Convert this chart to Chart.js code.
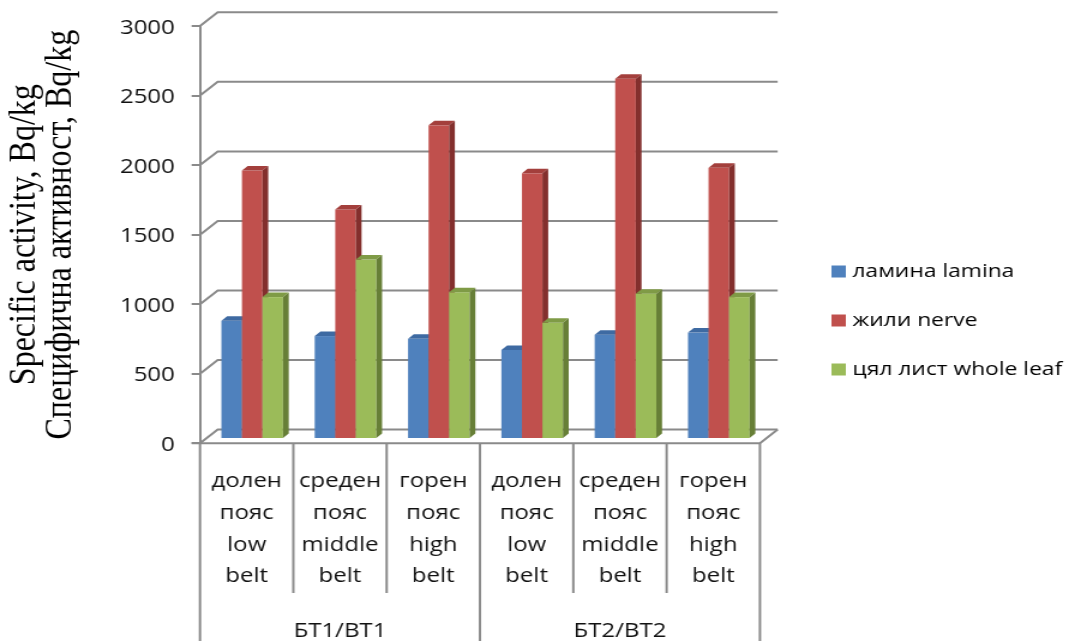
<!DOCTYPE html>
<html>
<head>
<meta charset="utf-8">
<script src="https://cdn.jsdelivr.net/npm/chart.js@4.4.1/dist/chart.umd.min.js"></script>
<style>
  html, body { margin: 0; padding: 0; background: #fff; overflow: hidden; }
  #wrap { width: 1069px; height: 641px; overflow: hidden; }
  #c { display: block; transform-origin: 0 0; }
</style>
</head>
<body>
<div id="wrap"><canvas id="c" width="891" height="641"></canvas></div>
<script>
// ---- data ----
const categories = [
  ['долен', 'пояс', 'low', 'belt'],
  ['среден', 'пояс', 'middle', 'belt'],
  ['горен', 'пояс', 'high', 'belt'],
  ['долен', 'пояс', 'low', 'belt'],
  ['среден', 'пояс', 'middle', 'belt'],
  ['горен', 'пояс', 'high', 'belt']
];
const groups = ['БТ1/ВТ1', 'БТ2/ВТ2'];
const seriesNames = ['ламина lamina', 'жили nerve', 'цял лист whole leaf'];
const lamina    = [850, 740, 720, 640, 750, 765];
const nerve     = [1930, 1650, 2255, 1910, 2590, 1950];
const wholeLeaf = [1020, 1290, 1055, 835, 1045, 1020];
const yMin = 0, yMax = 3000, yStep = 500;
const axisTitle = ['Specific activity, Bq/kg', 'Специфична активност, Bq/kg'];

// ---- styling ----
const frontColors = ['#4F81BD', '#C0504D', '#9BBB59'];
const sideColors  = ['#36598A', '#832F2D', '#677F37'];
const topColors   = ['#3E6AA2', '#A33F3C', '#7F9B46'];
const GRID = '#8a8a8a';
const TEXT = '#111';

// canvas is drawn narrower and widened with CSS
const canvas = document.getElementById('c');
canvas.style.transform = 'scaleX(' + (1069 / 891) + ')';

// 3D geometry (canvas units)
const WALL_DX = 14.75, WALL_DY = 13.7;      // depth of the back wall
const BAR_SHIFT_X = 4.6, BAR_SHIFT_Y = 4.3; // bars sit part-way into the depth
const BAR_DX = 4.8, BAR_DY = 4.5;           // bar depth

const excel3d = {
  id: 'excel3d',
  beforeDatasetsDraw(chart) {
    const { ctx, chartArea: a, scales: { y } } = chart;
    ctx.save();
    ctx.strokeStyle = GRID;
    ctx.lineWidth = 2;
    // back wall gridlines with their slanted left ends
    y.ticks.forEach(t => {
      const py = y.getPixelForValue(t.value);
      ctx.beginPath();
      ctx.moveTo(a.left, py);
      ctx.lineTo(a.left + WALL_DX, py - WALL_DY);
      ctx.lineTo(a.right + WALL_DX, py - WALL_DY);
      ctx.stroke();
    });
    // front and right edges of the floor
    const p0 = y.getPixelForValue(0);
    ctx.beginPath();
    ctx.moveTo(a.left - 7, p0);
    ctx.lineTo(a.right, p0);
    ctx.lineTo(a.right + WALL_DX, p0 - WALL_DY);
    ctx.stroke();
    ctx.restore();
  },
  afterDatasetsDraw(chart) {
    // bars painted left to right with their top and side faces
    const ctx = chart.ctx;
    ctx.save();
    ctx.translate(BAR_SHIFT_X, -BAR_SHIFT_Y);
    const metas = chart.data.datasets.map((d, i) => chart.getDatasetMeta(i));
    const n = chart.data.labels.length;
    for (let j = 0; j < n; j++) {
      metas.forEach((meta, i) => {
        const bar = meta.data[j];
        const { x, y, base, width } = bar.getProps(['x', 'y', 'base', 'width'], true);
        const l = x - width / 2, r = x + width / 2;
        ctx.fillStyle = frontColors[i];
        ctx.fillRect(l, y, width, base - y);
        ctx.fillStyle = topColors[i];
        ctx.beginPath();
        ctx.moveTo(l, y); ctx.lineTo(r, y);
        ctx.lineTo(r + BAR_DX, y - BAR_DY); ctx.lineTo(l + BAR_DX, y - BAR_DY);
        ctx.closePath(); ctx.fill();
        ctx.fillStyle = sideColors[i];
        ctx.beginPath();
        ctx.moveTo(r, y); ctx.lineTo(r + BAR_DX, y - BAR_DY);
        ctx.lineTo(r + BAR_DX, base - BAR_DY); ctx.lineTo(r, base);
        ctx.closePath(); ctx.fill();
      });
    }
    ctx.restore();
  },
  afterDraw(chart) {
    // category dividers below the floor; group dividers run to the bottom
    const { ctx, scales: { x, y } } = chart;
    const p0 = y.getPixelForValue(0);
    ctx.save();
    ctx.strokeStyle = GRID;
    ctx.lineWidth = 2;
    for (let i = 0; i <= categories.length; i++) {
      const px = x.getPixelForValue(i - 0.5);
      const bottom = (i % 3 === 0) ? chart.height : 593;
      ctx.beginPath();
      ctx.moveTo(px, p0);
      ctx.lineTo(px, bottom);
      ctx.stroke();
    }
    ctx.restore();
  }
};

Chart.defaults.font.family = "'Open Sans', sans-serif";
Chart.defaults.color = TEXT;

const spacer = (size, horizontal) => ({
  type: 'linear',
  position: horizontal ? 'top' : 'right',
  display: true,
  grid: { display: false, drawTicks: false },
  border: { display: false },
  ticks: { display: false },
  afterFit(s) { if (horizontal) s.height = size; else s.width = size; }
});

new Chart(canvas, {
  type: 'bar',
  data: {
    labels: categories,
    datasets: [
      { label: seriesNames[0], data: lamina },
      { label: seriesNames[1], data: nerve },
      { label: seriesNames[2], data: wholeLeaf }
    ].map(d => Object.assign(d, {
      backgroundColor: 'rgba(0,0,0,0)', categoryPercentage: 0.66, barPercentage: 1.0, borderWidth: 0
    }))
  },
  options: {
    responsive: false,
    devicePixelRatio: 1,
    animation: false,
    layout: { padding: 0 },
    plugins: {
      tooltip: { enabled: false },
      legend: {
        position: 'right',
        maxWidth: 224,
        labels: {
          font: { size: 19 },
          color: TEXT,
          boxWidth: 4,
          boxHeight: 4,
          padding: 30,
          generateLabels(chart) {
            return chart.data.datasets.map((d, i) => ({
              text: d.label,
              fillStyle: frontColors[i],
              strokeStyle: frontColors[i],
              lineWidth: 8,
              hidden: false,
              datasetIndex: i
            }));
          }
        }
      }
    },
    scales: {
      x: {
        position: 'bottom',
        grid: { display: false, drawTicks: false },
        border: { display: false },
        ticks: { font: { size: 20, lineHeight: 1.58 }, color: TEXT, padding: 22.6, maxRotation: 0, autoSkip: false },
        afterFit(s) { s.height = 150; }
      },
      x2: {
        type: 'category',
        position: 'bottom',
        labels: groups,
        offset: true,
        grid: { display: false, drawTicks: false },
        border: { display: false },
        ticks: { font: { size: 20, lineHeight: 1.2 }, color: TEXT, padding: 26.4, maxRotation: 0 },
        afterFit(s) { s.height = 47.7; }
      },
      xTop: spacer(26, true),
      y: {
        min: yMin, max: yMax,
        ticks: {
          stepSize: yStep, font: { size: 20 }, color: TEXT, padding: 14, labelOffset: 2,
          callback: v => String(v)
        },
        grid: { display: true, drawOnChartArea: false, drawTicks: true, tickLength: 7, color: GRID, lineWidth: 2 },
        border: { display: true, color: GRID, width: 2 },
        title: {
          display: true,
          text: axisTitle,
          font: { family: "'Liberation Serif', serif", size: 32, lineHeight: 0.953 },
          color: '#000',
          padding: { top: 5, bottom: 0 }
        },
        afterFit(s) { s.width = 166.7; }
      },
      y2: spacer(33.6, false)
    }
  },
  plugins: [excel3d]
});
</script>
</body>
</html>
